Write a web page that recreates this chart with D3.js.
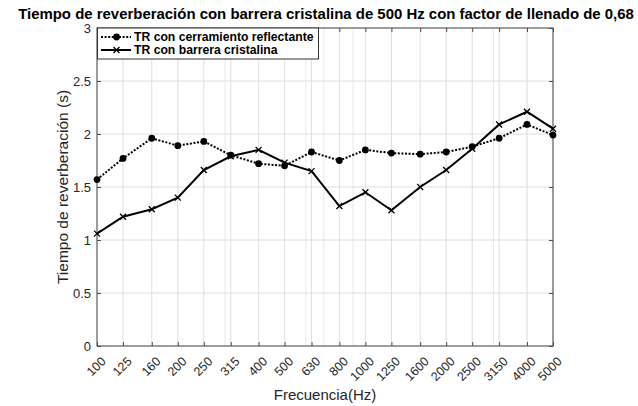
<!DOCTYPE html>
<html>
<head>
<meta charset="utf-8">
<script src="https://cdn.jsdelivr.net/npm/d3@7"></script>
<style>
  html, body { margin: 0; padding: 0; background: #fff; }
</style>
</head>
<body>
<div id="chart"></div>
<script>
// Data
const frecuencias = [100, 125, 160, 200, 250, 315, 400, 500, 630, 800, 1000, 1250, 1600, 2000, 2500, 3150, 4000, 5000];
const trReflectante = [1.57, 1.77, 1.96, 1.89, 1.93, 1.80, 1.72, 1.70, 1.83, 1.75, 1.85, 1.82, 1.81, 1.83, 1.88, 1.96, 2.09, 1.99];
const trCristalina = [1.06, 1.22, 1.29, 1.40, 1.66, 1.79, 1.85, 1.73, 1.65, 1.32, 1.45, 1.28, 1.50, 1.66, 1.86, 2.09, 2.21, 2.05];
const yTicks = [0, 0.5, 1, 1.5, 2, 2.5, 3];
const minorX = [200, 300, 400, 500, 600, 700, 800, 900, 1000, 2000, 3000, 4000, 5000];

const titulo = "Tiempo de reverberación con barrera cristalina de 500 Hz con factor de llenado de 0,68";
const etiquetaX = "Frecuencia(Hz)";
const etiquetaY = "Tiempo de reverberación (s)";
const series = [
  { name: "TR con cerramiento reflectante", values: trReflectante, dash: "2,1.6", marker: "circle" },
  { name: "TR con barrera cristalina", values: trCristalina, dash: null, marker: "cross" }
];

const width = 638;
const height = 406;
const margin = { top: 28, right: 85, bottom: 60, left: 97 };
const font = "'Liberation Sans', Arial, Helvetica, sans-serif";

const svg = d3.select("#chart")
  .append("svg")
  .attr("width", width)
  .attr("height", height)
  .style("font-family", font);

const x = d3.scaleLog()
  .domain([100, 5000])
  .range([margin.left, width - margin.right]);

const y = d3.scaleLinear()
  .domain([0, 3])
  .range([height - margin.bottom, margin.top]);

const x0 = x.range()[0], x1 = x.range()[1];
const yb = y.range()[0], yt = y.range()[1];

// Grid
const grid = svg.append("g").attr("stroke", "#dedede").attr("stroke-width", 1);
grid.selectAll("line.vmaj")
  .data(frecuencias)
  .join("line")
  .attr("x1", (d) => x(d)).attr("x2", (d) => x(d))
  .attr("y1", yt).attr("y2", yb);
grid.selectAll("line.vmin")
  .data(minorX)
  .join("line")
  .attr("class", "vmin")
  .attr("x1", (d) => x(d)).attr("x2", (d) => x(d))
  .attr("y1", yt).attr("y2", yb)
  .attr("stroke", "#e8e8e8");
grid.selectAll("line.h")
  .data(yTicks)
  .join("line")
  .attr("class", "h")
  .attr("x1", x0).attr("x2", x1)
  .attr("y1", (d) => y(d)).attr("y2", (d) => y(d));

// Axes (ticks inward, box all round)
const axisColor = "#4d4d4d";
const tickLen = 4;
const axes = svg.append("g");

const xAxis = axes.append("g")
  .attr("transform", `translate(0,${yb})`)
  .call(d3.axisBottom(x).tickValues(frecuencias).tickSize(-tickLen).tickFormat(d3.format("d")).tickSizeOuter(0));
xAxis.select(".domain").remove();
xAxis.selectAll(".tick line").attr("stroke", axisColor);
xAxis.selectAll(".tick text")
  .attr("fill", "#262626")
  .style("font-size", "12.5px")
  .style("font-family", font)
  .attr("text-anchor", "end")
  .attr("x", 0)
  .attr("y", 0)
  .attr("dy", "0.35em")
  .attr("transform", "translate(6,13) rotate(-45)");

const xTop = axes.append("g")
  .attr("transform", `translate(0,${yt})`)
  .call(d3.axisTop(x).tickValues(frecuencias).tickSize(-tickLen).tickFormat("").tickSizeOuter(0));
xTop.select(".domain").remove();
xTop.selectAll(".tick line").attr("stroke", axisColor);

const yAxis = axes.append("g")
  .attr("transform", `translate(${x0},0)`)
  .call(d3.axisLeft(y).tickValues(yTicks).tickSize(-tickLen).tickPadding(6).tickFormat(d3.format("~g")).tickSizeOuter(0));
yAxis.select(".domain").remove();
yAxis.selectAll(".tick line").attr("stroke", axisColor);
yAxis.selectAll(".tick text")
  .attr("fill", "#262626")
  .style("font-size", "13px")
  .style("font-family", font);

const yRight = axes.append("g")
  .attr("transform", `translate(${x1},0)`)
  .call(d3.axisRight(y).tickValues(yTicks).tickSize(-tickLen).tickFormat("").tickSizeOuter(0));
yRight.select(".domain").remove();
yRight.selectAll(".tick line").attr("stroke", axisColor);

axes.append("rect")
  .attr("x", x0).attr("y", yt)
  .attr("width", x1 - x0).attr("height", yb - yt)
  .attr("fill", "none")
  .attr("stroke", axisColor)
  .attr("stroke-width", 1);

// Lines
const line = d3.line()
  .x((d, i) => x(frecuencias[i]))
  .y((d) => y(d));

function drawMarker(g, type, cx, cy) {
  if (type === "circle") {
    g.append("circle").attr("cx", cx).attr("cy", cy).attr("r", 3.4).attr("fill", "#000");
  } else {
    const s = 3;
    g.append("path")
      .attr("d", `M${cx - s},${cy - s}L${cx + s},${cy + s}M${cx - s},${cy + s}L${cx + s},${cy - s}`)
      .attr("stroke", "#000").attr("stroke-width", 1.3).attr("fill", "none");
  }
}

series.forEach((s) => {
  const g = svg.append("g");
  g.append("path")
    .datum(s.values)
    .attr("d", line)
    .attr("fill", "none")
    .attr("stroke", "#000")
    .attr("stroke-width", 2)
    .attr("stroke-dasharray", s.dash);
  s.values.forEach((v, i) => drawMarker(g, s.marker, x(frecuencias[i]), y(v)));
});

// Legend
const legend = svg.append("g");
legend.append("rect")
  .attr("x", x0 + 0.5).attr("y", yt)
  .attr("width", 221).attr("height", 31)
  .attr("fill", "#fff")
  .attr("stroke", "#333")
  .attr("stroke-width", 1);
series.forEach((s, i) => {
  const cy = yt + 9 + i * 13;
  legend.append("line")
    .attr("x1", x0 + 4).attr("x2", x0 + 34)
    .attr("y1", cy).attr("y2", cy)
    .attr("stroke", "#000").attr("stroke-width", 2)
    .attr("stroke-dasharray", s.dash);
  drawMarker(legend, s.marker, x0 + 19.5, cy);
  legend.append("text")
    .attr("x", x0 + 37).attr("y", cy)
    .attr("dy", "0.35em")
    .style("font-size", "12.2px")
    .style("font-weight", "bold")
    .attr("fill", "#000")
    .text(s.name);
});

// Title centred over the axes, sized to span about 17..635 like the reference
const title = svg.append("text")
  .attr("x", (x0 + x1) / 2 + 1).attr("y", 19)
  .attr("text-anchor", "middle")
  .style("font-size", "14px")
  .style("font-weight", "bold")
  .attr("fill", "#000")
  .text(titulo);
const tw = title.node().getComputedTextLength();
title.style("font-size", (14 * 616 / tw).toFixed(2) + "px");

// Axis labels
svg.append("text")
  .attr("x", (x0 + x1) / 2).attr("y", 400)
  .attr("text-anchor", "middle")
  .style("font-size", "15px")
  .attr("fill", "#262626")
  .text(etiquetaX);

svg.append("text")
  .attr("transform", `translate(68,${(yt + yb) / 2}) rotate(-90)`)
  .attr("text-anchor", "middle")
  .style("font-size", "15.5px")
  .attr("fill", "#262626")
  .text(etiquetaY);
</script>
</body>
</html>
